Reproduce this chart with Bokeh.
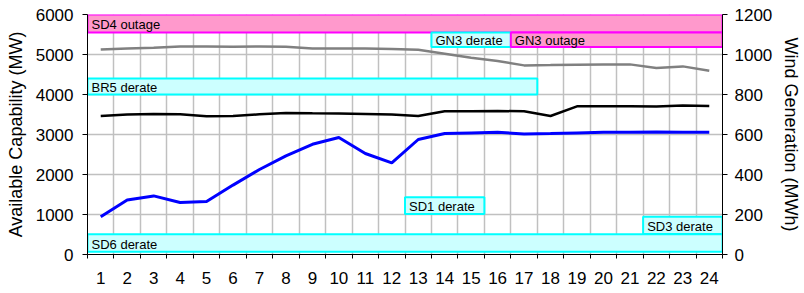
from bokeh.plotting import figure
from bokeh.models import Range1d, LinearAxis, FixedTicker, ColumnDataSource
from bokeh.core.properties import value
from bokeh.embed import file_html
from bokeh.resources import INLINE

# ---------------- data ----------------
hours = list(range(1, 25))
hour_labels = [str(h) for h in hours]

available_total = [5127, 5150, 5170, 5200, 5200, 5195, 5200, 5195, 5150, 5150, 5150, 5135,
                   5120, 5020, 4920, 4835, 4728, 4736, 4745, 4753, 4753, 4661, 4703, 4596]
available_other = [3463, 3498, 3513, 3505, 3456, 3463, 3505, 3538, 3530, 3523, 3513, 3498,
                   3463, 3580, 3580, 3588, 3580, 3463, 3705, 3705, 3705, 3698, 3723, 3713]
wind_mwh = [189, 272, 293, 260, 265, 347, 425, 493, 551, 585, 505, 458,
            575, 605, 608, 611, 603, 605, 608, 611, 611, 613, 611, 611]

event_names = ["SD4 outage", "GN3 derate", "GN3 outage", "BR5 derate",
               "SD1 derate", "SD3 derate", "SD6 derate"]
event_start = [0.5, 13.5, 16.5, 0.5, 12.5, 21.5, 0.5]
event_end = [24.5, 16.5, 24.5, 17.5, 15.5, 24.5, 24.5]
event_low = [5550, 5185, 5185, 4000, 1010, 511, 70]
event_high = [6000, 5550, 5550, 4400, 1430, 943, 504]
event_kind = ["outage", "derate", "outage", "derate", "derate", "derate", "derate"]

left_ticks = [0, 1000, 2000, 3000, 4000, 5000, 6000]
right_ticks = [0, 200, 400, 600, 800, 1000, 1200]

# ---------------- styling ----------------
FONT = "Liberation Sans"
fill_map = {"outage": "#ff99cc", "derate": "#ccffff"}
line_map = {"outage": "#ff00ff", "derate": "#00ffff"}

p = figure(width=804, height=293, output_backend="svg", toolbar_location=None,
           x_range=Range1d(0.5, 24.5), y_range=Range1d(0, 6000),
           min_border_left=87, min_border_right=76, min_border_top=14, min_border_bottom=39)
p.extra_y_ranges = {"wind": Range1d(0, 1200)}
p.outline_line_color = None
p.background_fill_color = "white"
p.border_fill_color = "white"

# x axis: labels at hour centres, tick marks at boundaries
xt = FixedTicker(ticks=hours, minor_ticks=[h - 0.5 for h in hours] + [24.5])
p.xaxis.ticker = xt
p.xaxis.major_label_overrides = {h: l for h, l in zip(hours, hour_labels)}
p.xaxis.major_tick_out = 0
p.xaxis.major_tick_in = 0
p.xaxis.minor_tick_out = 4
p.xaxis.minor_tick_in = 0
p.xaxis.minor_tick_line_color = "black"
p.xaxis.axis_line_color = "black"
p.xaxis.major_label_standoff = 13
p.xaxis.major_label_text_font = FONT
p.xaxis.major_label_text_font_size = "17px"
p.xaxis.major_label_text_color = "black"

p.xgrid.ticker = xt
p.xgrid.grid_line_color = None
p.xgrid.minor_grid_line_color = "#c0c0c0"
p.xgrid.minor_grid_line_width = 1.5

# left axis
p.yaxis.ticker = FixedTicker(ticks=left_ticks)
p.yaxis.axis_label = "Available Capability (MW)"
p.yaxis.axis_label_text_font = FONT
p.yaxis.axis_label_text_font_size = "18px"
p.yaxis.axis_label_text_font_style = "normal"
p.yaxis.axis_label_text_color = "black"
p.yaxis.axis_label_standoff = 7
p.yaxis.major_label_text_font = FONT
p.yaxis.major_label_text_font_size = "17px"
p.yaxis.major_label_text_color = "black"
p.yaxis.major_label_standoff = 9
p.yaxis.major_tick_out = 5
p.yaxis.major_tick_in = 0
p.yaxis.minor_tick_line_color = None
p.yaxis.axis_line_color = "black"

p.ygrid.ticker = FixedTicker(ticks=left_ticks)
p.ygrid.grid_line_color = "#c0c0c0"
p.ygrid.grid_line_width = 1.5

# right axis
ra = LinearAxis(y_range_name="wind", ticker=FixedTicker(ticks=right_ticks))
ra.axis_label = "Wind Generation (MWh)"
ra.axis_label_text_font = FONT
ra.axis_label_text_font_size = "18px"
ra.axis_label_text_font_style = "normal"
ra.axis_label_text_color = "black"
ra.axis_label_standoff = 6
ra.major_label_text_font = FONT
ra.major_label_text_font_size = "17px"
ra.major_label_text_color = "black"
ra.major_label_standoff = 7
ra.major_tick_out = 5
ra.major_tick_in = 0
ra.minor_tick_line_color = None
ra.axis_line_color = "black"
p.add_layout(ra, "right")

# event boxes
ev = ColumnDataSource(dict(
    name=event_names, left=event_start, right=event_end,
    bottom=event_low, top=event_high,
    mid=[(a + b) / 2 for a, b in zip(event_low, event_high)],
    fill=[fill_map[k] for k in event_kind],
    line=[line_map[k] for k in event_kind],
))
p.quad(left="left", right="right", bottom="bottom", top="top", source=ev,
       fill_color="fill", line_color="line", line_width=2)

# lines
p.line(hours, available_total, line_color="#808080", line_width=2.5)
p.line(hours, available_other, line_color="black", line_width=2.5)
p.line(hours, wind_mwh, line_color="#0000ff", line_width=3, y_range_name="wind")

# box texts
p.text(x="left", y="mid", text="name", source=ev, x_offset=4, y_offset=1,
       text_font=value(FONT), text_font_size="13px", text_color="black",
       text_baseline="middle", text_align="left")

open("out.html", "w").write(file_html(p, INLINE))
